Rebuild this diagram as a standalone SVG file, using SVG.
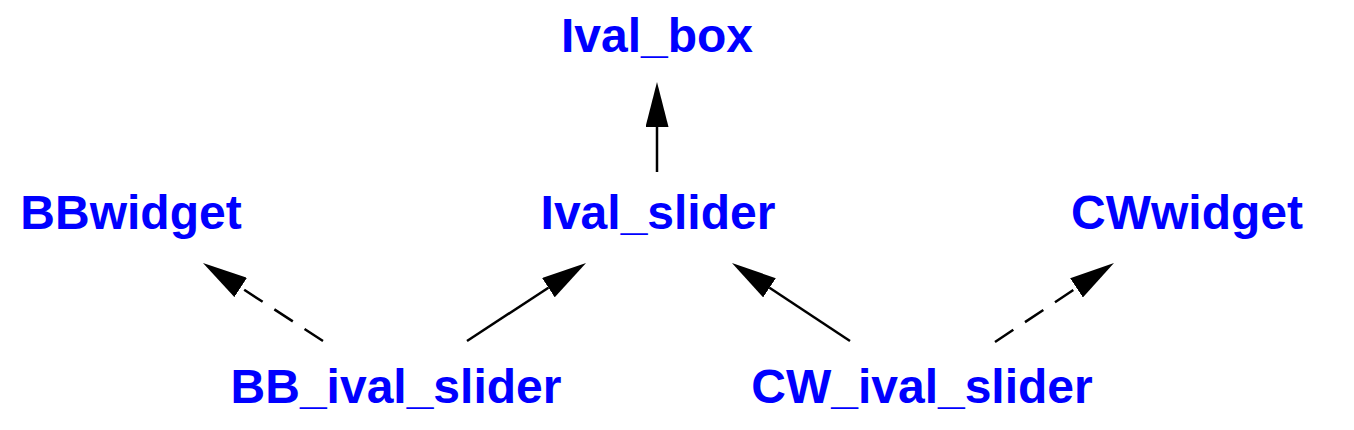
<svg xmlns="http://www.w3.org/2000/svg" width="1354" height="430" viewBox="0 0 1354 430">
<style>
.lbl{font-family:"Liberation Sans",Arial,sans-serif;font-weight:bold;font-size:48px;fill:#0000ff;text-anchor:middle}
.edge{stroke:#000;stroke-width:2.5;fill:none}
.dash{stroke-dasharray:22 14}
</style>
<defs>
<marker id="ah" markerUnits="userSpaceOnUse" viewBox="0 0 45 23" refX="0" refY="11.5" markerWidth="45" markerHeight="23" orient="auto">
<path d="M0,0 L45,11.5 L0,23 z" fill="#000"/>
</marker>
</defs>
<rect width="1354" height="430" fill="#fff"/>
<g id="connectors">
<line class="edge" x1="657" y1="172" x2="657" y2="127" marker-end="url(#ah)"/>
<line class="edge dash" x1="323" y1="341" x2="240.7" y2="287.5" marker-end="url(#ah)"/>
<line class="edge" x1="467" y1="341" x2="548.4" y2="287.7" marker-end="url(#ah)"/>
<line class="edge" x1="850" y1="341" x2="769.5" y2="287.8" marker-end="url(#ah)"/>
<line class="edge dash" x1="995" y1="342" x2="1076.5" y2="287.9" marker-end="url(#ah)"/>
</g>
<g id="Ival_box"><text class="lbl" x="657" y="52">Ival_box</text></g>
<g id="BBwidget"><text class="lbl" x="131" y="229">BBwidget</text></g>
<g id="Ival_slider"><text class="lbl" x="658" y="229">Ival_slider</text></g>
<g id="CWwidget"><text class="lbl" x="1187" y="229">CWwidget</text></g>
<g id="BB_ival_slider"><text class="lbl" x="396" y="403">BB_ival_slider</text></g>
<g id="CW_ival_slider"><text class="lbl" x="922" y="403">CW_ival_slider</text></g>
</svg>
